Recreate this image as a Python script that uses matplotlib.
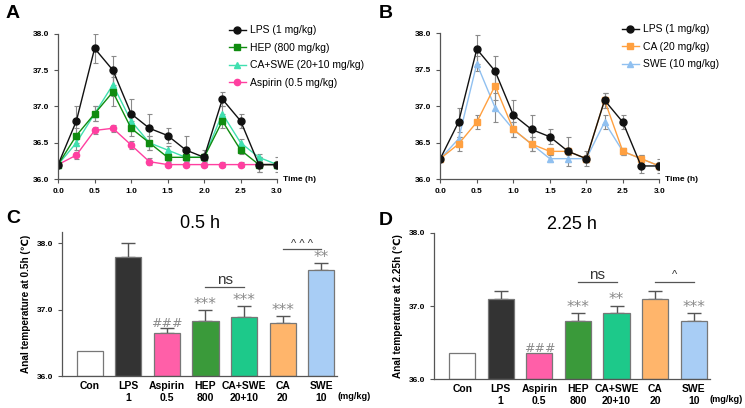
import numpy as np
import matplotlib
matplotlib.use("Agg")
import matplotlib.pyplot as plt
from matplotlib.lines import Line2D

plt.rcParams["font.family"] = ["Liberation Sans", "DejaVu Sans"]

# ---- line data (panel A / B)
time_h = [0, 0.25, 0.5, 0.75, 1.0, 1.25, 1.5, 1.75, 2.0, 2.25, 2.5, 2.75, 3.0]

a_lps = [36.2, 36.8, 37.8, 37.5, 36.9, 36.7, 36.6, 36.4, 36.3, 37.1, 36.8, 36.2, 36.2]
a_lps_err = [0, 0.2, 0.2, 0.2, 0.2, 0.2, 0.1, 0.2, 0.1, 0.1, 0.1, 0.1, 0.1]
a_hep = [36.2, 36.6, 36.9, 37.2, 36.7, 36.5, 36.3, 36.3, 36.3, 36.8, 36.4, 36.2, 36.2]
a_hep_err = [0, 0.1, 0.1, 0.2, 0.1, 0.1, 0.05, 0.05, 0.05, 0.1, 0.05, 0.1, 0.05]
a_caswe = [36.2, 36.5, 36.9, 37.3, 36.8, 36.5, 36.4, 36.3, 36.3, 36.9, 36.5, 36.3, 36.2]
a_caswe_err = [0, 0.1, 0.1, 0.15, 0.1, 0.1, 0.05, 0.05, 0.05, 0.1, 0.05, 0.05, 0.05]
a_asp = [36.2, 36.33, 36.67, 36.7, 36.47, 36.24, 36.2, 36.2, 36.2, 36.2, 36.2, 36.2, 36.2]
a_asp_err = [0, 0.05, 0.05, 0.05, 0.05, 0.05, 0.03, 0.03, 0.03, 0.03, 0.03, 0.03, 0.03]

b_lps = [36.28, 36.78, 37.78, 37.48, 36.88, 36.68, 36.58, 36.38, 36.28, 37.08, 36.78, 36.18, 36.18]
b_lps_err = [0, 0.2, 0.2, 0.2, 0.2, 0.2, 0.1, 0.2, 0.1, 0.1, 0.1, 0.1, 0.1]
b_ca = [36.28, 36.48, 36.78, 37.28, 36.68, 36.48, 36.38, 36.38, 36.28, 37.08, 36.38, 36.28, 36.18]
b_ca_err = [0, 0.1, 0.1, 0.2, 0.1, 0.1, 0.05, 0.05, 0.05, 0.1, 0.05, 0.05, 0.05]
b_swe = [36.28, 36.55, 37.58, 36.98, 36.68, 36.48, 36.28, 36.28, 36.28, 36.78, 36.38, 36.28, 36.18]
b_swe_err = [0, 0.1, 0.1, 0.2, 0.1, 0.1, 0.05, 0.05, 0.05, 0.1, 0.05, 0.05, 0.05]

# ---- bar data (panel C / D)
groups = ["Con\n ", "LPS\n1", "Aspirin\n0.5", "HEP\n800", "CA+SWE\n20+10", "CA\n20", "SWE\n10"]
bar_colors = ["white", "#333333", "#ff5fa8", "#3a9a3a", "#1dc98a", "#ffb56b", "#a8cdf5"]

c_vals = [36.38, 37.8, 36.65, 36.83, 36.89, 36.8, 37.6]
c_err = [0, 0.2, 0.07, 0.16, 0.16, 0.1, 0.1]
c_marks = ["", "", "###", "***", "***", "***", "**"]

d_vals = [36.35, 37.1, 36.35, 36.8, 36.9, 37.1, 36.8]
d_err = [0, 0.1, 0, 0.1, 0.1, 0.1, 0.1]
d_marks = ["", "", "###", "***", "**", "", "***"]

fig = plt.figure(figsize=(7.45, 4.08), dpi=100)


def style_axes(ax):
    for s in ["top", "right"]:
        ax.spines[s].set_visible(False)
    for s in ["left", "bottom"]:
        ax.spines[s].set_color("#555555")
        ax.spines[s].set_linewidth(0.9)
    ax.tick_params(colors="#555555", length=3, width=0.8, labelsize=6)
    for lab in ax.get_xticklabels() + ax.get_yticklabels():
        lab.set_fontweight("bold")
        lab.set_color("black")


def line_series(ax, y, err, color, marker, label, ms):
    ax.errorbar(time_h, y, yerr=err, color=color, marker=marker, ms=ms, lw=1.0,
                ecolor="#8a8a8a", elinewidth=0.8, capsize=1.8, capthick=0.8)
    return Line2D([], [], color=color, marker=marker, ms=ms, lw=1.0, label=label)


def line_axes(ax, handles, anchor):
    ax.set_xlim(0, 3)
    ax.set_ylim(36, 38)
    ax.set_xticks(np.arange(0, 3.01, 0.5))
    ax.set_yticks(np.arange(36, 38.01, 0.5))
    ax.xaxis.set_major_formatter(plt.FormatStrFormatter("%.1f"))
    ax.yaxis.set_major_formatter(plt.FormatStrFormatter("%.1f"))
    style_axes(ax)
    ax.legend(handles=handles, loc="upper left", bbox_to_anchor=anchor, frameon=False,
              fontsize=7.5, handlelength=1.6, handletextpad=0.4, labelspacing=0.72,
              borderaxespad=0, borderpad=0)
    ax.text(3.08, 36.0, "Time (h)", fontsize=6, fontweight="bold", va="center", ha="left")


# ---- A
axA = fig.add_axes([0.078, 0.561, 0.294, 0.356])
hA_asp = line_series(axA, a_asp, a_asp_err, "#ff3fa0", "o", "Aspirin (0.5 mg/kg)", 4.5)
hA_cs = line_series(axA, a_caswe, a_caswe_err, "#40e0b0", "^", "CA+SWE (20+10 mg/kg)", 4.5)
hA_hep = line_series(axA, a_hep, a_hep_err, "#108c10", "s", "HEP (800 mg/kg)", 5)
hA_lps = line_series(axA, a_lps, a_lps_err, "#111111", "o", "LPS (1 mg/kg)", 5)
line_axes(axA, [hA_lps, hA_hep, hA_cs, hA_asp], (0.78, 1.06))
fig.text(0.008, 0.967, "A", fontsize=14, fontweight="bold", va="center")

# ---- B
axB = fig.add_axes([0.591, 0.561, 0.294, 0.358])
hB_swe = line_series(axB, b_swe, b_swe_err, "#90c0f0", "^", "SWE (10 mg/kg)", 4.5)
hB_ca = line_series(axB, b_ca, b_ca_err, "#ffa040", "s", "CA (20 mg/kg)", 5)
hB_lps = line_series(axB, b_lps, b_lps_err, "#111111", "o", "LPS (1 mg/kg)", 5)
line_axes(axB, [hB_lps, hB_ca, hB_swe], (0.83, 1.06))
fig.text(0.508, 0.967, "B", fontsize=14, fontweight="bold", va="center")


def bar_panel(ax, vals, err, marks, ylabel, top):
    x = np.arange(len(groups))
    ax.bar(x, [v - 36 for v in vals], bottom=36, width=0.68, color=bar_colors,
           edgecolor="#777777", linewidth=0.9, zorder=2)
    for xi, v, e in zip(x, vals, err):
        if e > 0:
            ax.errorbar(xi, v, yerr=[[0], [e]], fmt="none", ecolor="#555555",
                        elinewidth=1.0, capsize=5, capthick=1.0, zorder=1)
    for xi, v, e, m in zip(x, vals, err, marks):
        if m:
            fs = 9 if m.startswith("#") else 11
            ax.text(xi, v + e - 0.02, m, ha="center", va="bottom", fontsize=fs,
                    color="#8a8a8a", family="DejaVu Sans")
    ax.set_xlim(-0.72, 6.42)
    ax.set_ylim(36, top)
    ax.set_yticks([36, 37, 38])
    ax.yaxis.set_major_formatter(plt.FormatStrFormatter("%.1f"))
    ax.set_xticks(x)
    ax.set_xticklabels(groups, linespacing=1.25)
    style_axes(ax)
    for lab in ax.get_xticklabels():
        lab.set_fontsize(7.5)
    ax.tick_params(axis="x", length=0, pad=3.5)
    ax.set_ylabel(ylabel, fontsize=7.2, fontweight="bold", labelpad=4)
    ax.annotate("(mg/kg)", xy=(6.42, 0), xycoords=("data", "axes fraction"),
                xytext=(0, -14.5), textcoords="offset points", fontsize=6.6,
                fontweight="bold", ha="left", va="center")


def sig_line(ax, x0, x1, y, label, fs, dy):
    ax.plot([x0, x1], [y, y], color="#555555", lw=0.9)
    ax.text((x0 + x1) / 2, y + dy, label, ha="center", va="bottom", fontsize=fs,
            color="#333333")


# ---- C
axC = fig.add_axes([0.083, 0.078, 0.370, 0.353])
bar_panel(axC, c_vals, c_err, c_marks, "Anal temperature at 0.5h (℃)", 38.17)
sig_line(axC, 3, 4, 37.34, "ns", 11, 0.0)
sig_line(axC, 5, 6, 37.92, "^ ^ ^", 8, 0.0)
axC.set_title("0.5 h", fontsize=13, pad=0)
fig.text(0.008, 0.464, "C", fontsize=14, fontweight="bold", va="center")

# ---- D
axD = fig.add_axes([0.583, 0.071, 0.37, 0.358])
bar_panel(axD, d_vals, d_err, d_marks, "Anal temperature at 2.25h (℃)", 38.0)
sig_line(axD, 3, 4, 37.33, "ns", 11, 0.0)
sig_line(axD, 5, 6, 37.33, "^", 8, 0.02)
axD.set_title("2.25 h", fontsize=13, pad=1)
fig.text(0.508, 0.46, "D", fontsize=14, fontweight="bold", va="center")

fig.savefig("out.png", dpi=100)
